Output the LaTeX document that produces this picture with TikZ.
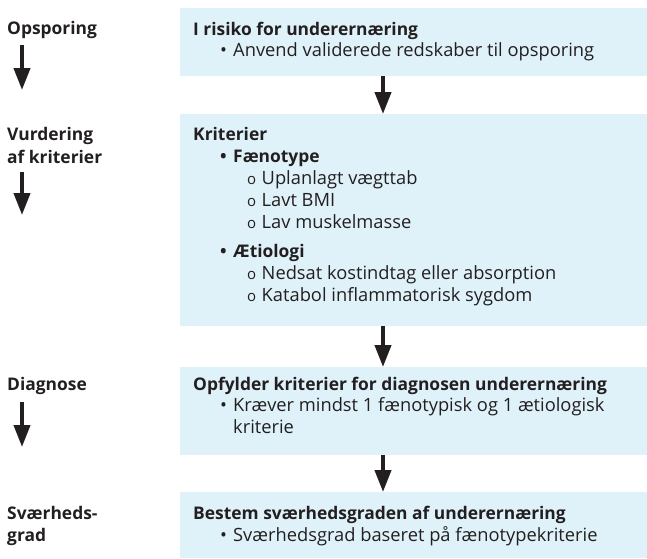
\documentclass[tikz,border=0pt]{standalone}
\usepackage{fontspec}
\setmainfont{Open Sans}
\usetikzlibrary{arrows.meta}
\definecolor{boxblue}{RGB}{223,242,250}
\definecolor{ink}{RGB}{35,31,32}
\newcommand{\bul}{\makebox[13pt][l]{\textbullet}}
\newcommand{\subbul}{\makebox[14.5pt][l]{\fontsize{15}{22}\selectfont o}}

\begin{document}
\begin{tikzpicture}[x=1pt,y=-1pt,
  box/.style={fill=boxblue,inner sep=0pt,anchor=north west,minimum width=467pt},
  txt/.style={anchor=base west,inner sep=0pt,text=ink,font=\fontsize{18.3}{22}\selectfont},
  hd/.style={txt,font=\fontsize{17.4}{22}\selectfont\bfseries},
  flow/.style={draw=ink,line width=4pt,-{Triangle[width=16pt,length=22pt]}}]
  \useasboundingbox (0,0) rectangle (647,558);
  \node[box,minimum height=68pt] (risk) at (180,8) {};
  \node[box,minimum height=212pt] (crit) at (180,114) {};
  \node[box,minimum height=88pt] (diag) at (180,367) {};
  \node[box,minimum height=66pt] (sev) at (180,492) {};
  \coordinate (mid) at (383,0);
  \draw[flow] (risk.south -| mid) -- (crit.north -| mid);
  \draw[flow] (crit.south -| mid) -- (diag.north -| mid);
  \draw[flow] (diag.south -| mid) -- (sev.north -| mid);

  \node[hd] (l1) at (7,34) {Opsporing};
  \node[hd] (l2) at (7,140) {Vurdering};
  \node[hd] (l2b) at (7,163) {af kriterier};
  \node[hd] (l3) at (7,390) {Diagnose};
  \node[hd] (l4) at (7,519) {Sværheds-};
  \node[hd] (l4b) at (7,541) {grad};
  \coordinate (s1) at (22,45);  \coordinate (e1) at (22,90);
  \coordinate (s2) at (22,172); \coordinate (e2) at (22,215);
  \coordinate (s3) at (22,402); \coordinate (e3) at (22,447);
  \draw[flow] (s1) -- (e1);
  \draw[flow] (s2) -- (e2);
  \draw[flow] (s3) -- (e3);

  \node[hd] (r1) at (193,35) {I risiko for underernæring};
  \node[txt] (r2) at (220,56) {\bul Anvend validerede redskaber til opsporing};

  \node[hd] (k1) at (193,140) {Kriterier};
  \node[hd] (k2) at (220,162) {\bul Fænotype};
  \node[txt] (k3) at (247,184) {\subbul Uplanlagt vægttab};
  \node[txt] (k4) at (247,206) {\subbul Lavt BMI};
  \node[txt] (k5) at (247,228) {\subbul Lav muskelmasse};
  \node[hd] (k6) at (220,257) {\bul Ætiologi};
  \node[txt] (k7) at (247,279) {\subbul Nedsat kostindtag eller absorption};
  \node[txt] (k8) at (247,301) {\subbul Katabol inflammatorisk sygdom};

  \node[hd] (d1) at (193,390) {Opfylder kriterier for diagnosen underernæring};
  \node[txt] (d2) at (220,411) {\bul Kræver mindst 1 fænotypisk og 1 ætiologisk};
  \node[txt] (d3) at (233,433) {kriterie};

  \node[hd] (v1) at (193,519) {Bestem sværhedsgraden af underernæring};
  \node[txt] (v2) at (220,541) {\bul Sværhedsgrad baseret på fænotypekriterie};
\end{tikzpicture}
\end{document}
